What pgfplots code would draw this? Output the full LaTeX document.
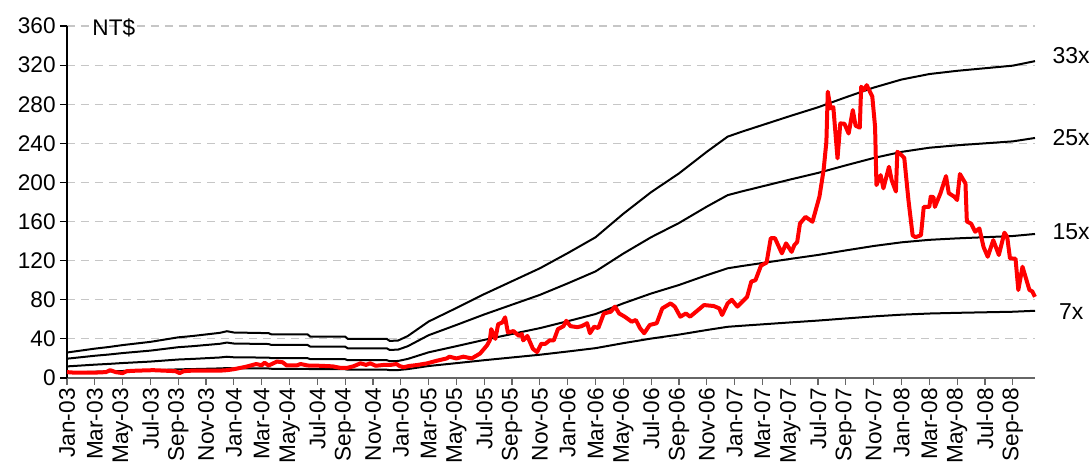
\documentclass[border=0pt]{standalone}
\usepackage{pgfplots}
\pgfplotsset{compat=1.18}
\usepackage{pgfplotstable}
\usepackage{fontspec}
\setmainfont{Liberation Sans}

\pgfplotstableread{
m b7 b15 b25 b33
0 5.53 11.85 19.75 26.07
1 5.95 12.75 21.25 28.05
2 6.37 13.65 22.75 30.03
3 6.72 14.4 24.0 31.68
4 7.14 15.3 25.5 33.66
5 7.49 16.05 26.75 35.31
6 7.84 16.8 28.0 36.96
7 8.33 17.85 29.75 39.27
8 8.82 18.9 31.5 41.58
9 9.1 19.5 32.5 42.9
10 9.45 20.25 33.75 44.55
11 9.8 21.0 35.0 46.2
11.5 10.15 21.75 36.25 47.85
12 9.87 21.15 35.25 46.53
14.5 9.73 20.85 34.75 45.87
14.7 9.45 20.25 33.75 44.55
17.3 9.45 20.25 33.75 44.55
17.5 8.96 19.2 32.0 42.24
20.0 8.96 19.2 32.0 42.24
20.2 8.47 18.15 30.25 39.93
23.0 8.47 18.15 30.25 39.93
23.2 8.05 17.25 28.75 37.95
23.8 8.12 17.4 29.0 38.28
24.5 9.1 19.5 32.5 42.9
26 12.25 26.25 43.75 57.75
28 15.19 32.55 54.25 71.61
30 18.2 39.0 65.0 85.8
32 21.0 45.0 75.0 99.0
34 23.8 51.0 85.0 112.2
36 27.09 58.05 96.75 127.71
38 30.52 65.4 109.0 143.88
40 35.63 76.35 127.25 167.97
42 40.32 86.4 144.0 190.08
44 44.38 95.1 158.5 209.22
46 49.07 105.15 175.25 231.33
47.5 52.36 112.2 187.0 246.84
48.5 53.41 114.45 190.75 251.79
50 54.88 117.6 196.0 258.72
52 56.84 121.8 203.0 267.96
54 58.73 125.85 209.75 276.87
56 60.9 130.5 217.5 287.1
58 63.0 135.0 225.0 297.0
60 64.75 138.75 231.25 305.25
62 65.94 141.3 235.5 310.86
64 66.64 142.8 238.0 314.16
66 67.2 144.0 240.0 316.8
68 67.76 145.2 242.0 319.44
69.6 68.74 147.3 245.5 324.06
}\bands

\pgfplotstableread{
m p
0 6
0.5 5.5
1 5.5
2 5.5
2.8 6
3.1 8
3.5 6
4 5
4.3 7
5 7.5
6.2 8
7 7.5
7.8 7
8.1 5
8.4 7
9 7.5
10 7.5
11 7.5
11.5 8
12 9
12.9 11.6
13.6 14.3
14.0 13
14.2 15.7
14.5 12.8
15.1 16.8
15.5 16.1
15.8 12.8
16.5 12.8
16.8 14.3
17.3 12.8
18.2 12.5
19.1 11.9
19.6 10.5
20.1 10.2
20.6 12
21.1 15
21.5 13.4
21.8 15
22.2 12.5
22.8 13.4
23.2 13.3
23.7 14.3
23.9 12.3
24.2 11
24.6 12.3
25.2 13.3
25.9 15
26.6 17.7
27.3 20
27.5 21.8
28.0 20
28.5 21.8
29.1 20
29.7 25
30.2 33.4
30.4 38.5
30.5 50
30.8 40
31.0 55
31.3 56.8
31.5 62
31.7 46.5
32.1 48
32.5 43
32.7 45
32.8 38.5
33.1 43
33.5 29.8
33.8 26.5
34.1 35
34.4 35
34.7 38.5
35.0 38.5
35.3 50
35.7 53
35.9 58.5
36.2 53
36.7 52
37.0 53
37.4 56
37.6 45.8
37.9 52.5
38.2 51
38.6 66
39.1 67.8
39.4 73
39.7 66
40.1 62.7
40.6 57.6
40.9 59.3
41.2 51
41.5 45.8
41.9 54.2
42.4 56
42.8 71.2
43.4 76.3
43.7 73
44.1 62.7
44.5 66
44.8 62.7
45.8 74.6
46.5 73.6
46.9 71.2
47.1 64.4
47.5 76.3
47.8 80
48.2 73
48.9 83
49.2 98.6
49.5 100
49.9 115
50.3 118
50.6 143
50.9 143
51.4 127.5
51.7 137.7
52.1 129
52.3 136
52.5 139
52.7 158
53.1 164.8
53.6 159.8
54.1 185.4
54.4 212.7
54.6 241.6
54.7 292.8
54.9 275.7
55.1 277
55.4 224.6
55.6 260.4
55.9 260
56.2 250
56.5 274
56.7 258
57.0 256
57.1 297.9
57.3 294.5
57.5 299.5
57.9 288
58.1 257
58.2 197.3
58.5 207.5
58.7 194
59.1 216
59.3 202
59.6 190.7
59.7 231.4
60.0 228
60.2 225
60.5 182
60.8 146
61.0 144
61.4 146
61.6 175
62.0 175
62.1 185.4
62.3 185
62.4 175
62.8 188.8
63.2 206.5
63.4 189
63.8 185.4
64.0 182
64.2 208.6
64.6 199
64.7 160
65.0 158
65.3 149.6
65.6 153
65.9 134
66.2 124
66.6 141
67.0 125.8
67.4 148.6
67.6 144.4
67.8 122.4
68.2 122
68.4 90
68.7 113.8
69.2 90
69.4 88.6
69.6 83
}\price

\begin{document}
\begin{tikzpicture}
\path[use as bounding box] (-33.5pt,-46pt) rectangle (512.5pt,189pt);
\begin{axis}[
  at={(0,0)}, anchor=south west,
  scale only axis,
  width=484pt, height=176pt,
  xmin=0, xmax=69.6,
  ymin=0, ymax=360,
  ytick={0,40,...,360},
  xtick={0,2,...,68},
  xticklabels={Jan-03,Mar-03,May-03,Jul-03,Sep-03,Nov-03,
    Jan-04,Mar-04,May-04,Jul-04,Sep-04,Nov-04,
    Jan-05,Mar-05,May-05,Jul-05,Sep-05,Nov-05,
    Jan-06,Mar-06,May-06,Jul-06,Sep-06,Nov-06,
    Jan-07,Mar-07,May-07,Jul-07,Sep-07,Nov-07,
    Jan-08,Mar-08,May-08,Jul-08,Sep-08},
  axis x line*=bottom,
  axis y line*=left,
  x axis line style={gray!80!black, line width=0.8pt},
  y axis line style={black, line width=0.6pt},
  tick align=outside,
  major tick length=3.5pt,
  xtick style={gray!80!black, line width=0.6pt},
  ytick style={black, line width=0.6pt},
  ymajorgrids,
  major grid style={gray!45, dash pattern=on 4pt off 3pt, line width=0.6pt},
  /pgf/number format/assume math mode=true,
  ticklabel style={font=\fontsize{11.3}{13}\selectfont},
  xticklabel style={rotate=90, anchor=east, inner sep=1.5pt},
  yticklabel style={inner sep=2pt},
  clip=false,
]
\addplot[black, line width=1pt] table[x=m, y=b7] {\bands};
\addplot[black, line width=1pt] table[x=m, y=b15] {\bands};
\addplot[black, line width=1pt] table[x=m, y=b25] {\bands};
\addplot[black, line width=1pt] table[x=m, y=b33] {\bands};
\addplot[red, line width=2pt, line join=round] table[x=m, y=p] {\price};
\node[anchor=west, font=\fontsize{11.3}{13}\selectfont, inner sep=0pt] at (axis cs:1.8,358) {NT\$};
\node[anchor=west, font=\fontsize{11.5}{13}\selectfont, inner sep=0pt] at (axis cs:70.84,330) {33x};
\node[anchor=west, font=\fontsize{11.5}{13}\selectfont, inner sep=0pt] at (axis cs:70.84,245.4) {25x};
\node[anchor=west, font=\fontsize{11.5}{13}\selectfont, inner sep=0pt] at (axis cs:70.84,149.5) {15x};
\node[anchor=west, font=\fontsize{11.5}{13}\selectfont, inner sep=0pt] at (axis cs:71.3,68) {7x};
\end{axis}
\end{tikzpicture}
\end{document}
